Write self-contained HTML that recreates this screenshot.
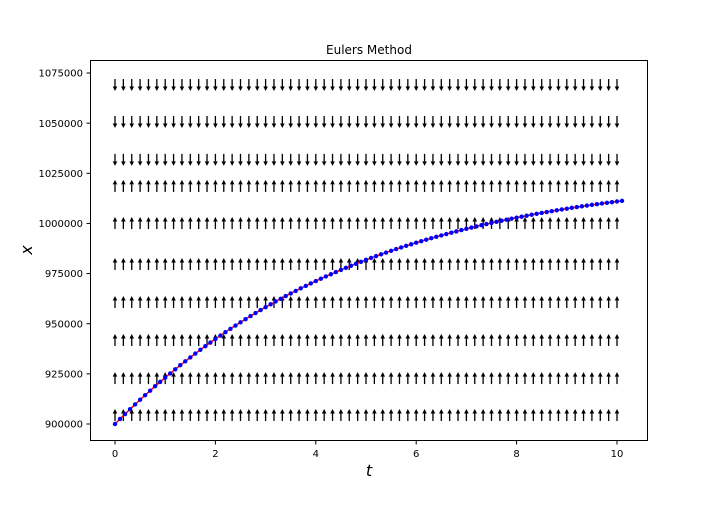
<!DOCTYPE html>
<html><head><meta charset="utf-8"><style>
html,body{margin:0;padding:0;background:#fff;}
svg text{font-family:"DejaVu Sans","Liberation Sans",sans-serif;fill:#000;}
</style></head><body>
<svg id="chart" width="720" height="504" xmlns="http://www.w3.org/2000/svg">
<rect width="720" height="504" fill="#fff"/>
<text x="369" y="54" font-size="12" text-anchor="middle">Eulers Method</text>
<g id="field"></g>
<g id="series"></g>
<rect x="90.5" y="60.5" width="557" height="380" fill="none" stroke="#000" stroke-width="1"/>
<g id="xticks"></g>
<g id="yticks"></g>
<text x="369" y="476" font-size="16" font-style="italic" text-anchor="middle">t</text>
<text x="0" y="0" font-size="16" font-style="italic" text-anchor="middle" transform="translate(32,250) rotate(-90)">x</text>
</svg>
<script>
const xTicks=[0,2,4,6,8,10];
const yTicks=[900000,925000,950000,975000,1000000,1025000,1050000,1075000];
const fieldRows=[904500,922900,941900,960800,979800,1000200,1018700,1031700,1050600,1069000];
const fieldDirs=[1,1,1,1,1,1,1,-1,-1,-1];
const fieldCols=61;
const tStart=0, tStep=0.1;
const xValues=[900000,902500,904960,907380,909760,912090,914370,916620,918830,921000,923130,925230,927280,929300,931270,933210,935120,936980,938820,940620,942390,944110,945800,947460,949100,950700,952270,953810,955320,956800,958260,959680,961080,962430,963780,965090,966370,967630,968860,970080,971260,972420,973560,974660,975750,976820,977870,978900,979900,980880,981840,982780,983700,984600,985490,986350,987190,988020,988830,989620,990390,991150,991890,992630,993340,994030,994720,995390,996040,996690,997310,997930,998530,999120,999690,1000260,1000800,1001340,1001870,1002390,1002880,1003370,1003850,1004330,1004800,1005250,1005690,1006120,1006550,1006970,1007370,1007770,1008150,1008530,1008900,1009260,1009600,1009950,1010290,1010620,1010940,1011250];

const NS="http://www.w3.org/2000/svg";
function X(t){return 115+t*50.2;}
function Y(v){return 424-(v-900000)/25000*50.14;}
function mk(tag,attrs,parent){const e=document.createElementNS(NS,tag);for(const k in attrs)e.setAttribute(k,attrs[k]);parent.appendChild(e);return e;}

const xg=document.getElementById('xticks');
xTicks.forEach(t=>{
  const l=mk('line',{x1:X(t),x2:X(t),y1:441,y2:444.5,stroke:'#000'},xg);
  
  
  const tx=mk('text',{x:X(t),y:457,'font-size':10,'text-anchor':'middle'},xg);
  tx.textContent=t;
  
  
});
const yg=document.getElementById('yticks');
yTicks.forEach(v=>{
  const l=mk('line',{x1:86.5,x2:90,y1:Y(v),y2:Y(v),stroke:'#000'},yg);
  
  
  const tx=mk('text',{x:83,y:Y(v)+3.6,'font-size':10,'text-anchor':'end'},yg);
  tx.textContent=v;
  
  
});

const fg=document.getElementById('field');
fieldRows.forEach((v,ri)=>{
  const d=fieldDirs[ri];
  const cy=Y(v);
  for(let c=0;c<fieldCols;c++){
    const cx=X(c*10/(fieldCols-1));
    const tail=cy+d*6, tip=cy-d*6, hb=tip+d*4.5;
    const g=mk('g',{},fg);
    
    
    mk('line',{x1:cx,x2:cx,y1:tail,y2:hb,stroke:'#000','stroke-width':1.3},g);
    mk('polygon',{points:`${cx-2.3},${hb} ${cx+2.3},${hb} ${cx},${tip}`,fill:'#000'},g);
  }
});

const sg=document.getElementById('series');
const pts=xValues.map((v,i)=>X(tStart+i*tStep).toFixed(2)+','+Y(v).toFixed(2)).join(' ');
const pl=mk('polyline',{points:pts,fill:'none',stroke:'#ff0000','stroke-width':1.5},sg);


xValues.forEach((v,i)=>{
  const c=mk('circle',{cx:X(tStart+i*tStep),cy:Y(v),r:2.2,fill:'#0000ff'},sg);
  
  
});
</script>
</body></html>
